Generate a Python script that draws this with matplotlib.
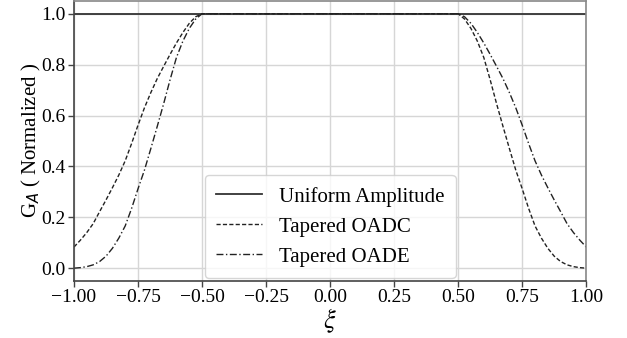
import numpy as np
import matplotlib
matplotlib.use("Agg")
import matplotlib.pyplot as plt

taper_step = [0, 1, 2, 3, 4, 5, 6, 7, 8, 9, 10,
              11, 12, 13, 14, 15, 16, 17, 18, 19, 20]

# slow taper, starts on a pedestal of ~0.08
slow_taper = [0.083, 0.110, 0.140, 0.175, 0.222, 0.268, 0.316, 0.366, 0.422, 0.490, 0.562,
              0.630, 0.690, 0.745, 0.793, 0.840, 0.885, 0.926, 0.962, 0.988, 1.000]
# fast taper, starts at zero
fast_taper = [0.000, 0.002, 0.006, 0.013, 0.026, 0.047, 0.078, 0.118, 0.166, 0.235, 0.312,
              0.385, 0.470, 0.557, 0.646, 0.740, 0.828, 0.892, 0.942, 0.979, 1.000]

xi_left = [-1.0 + 0.025 * k for k in taper_step]     # -1.0 .. -0.5
xi_right = [0.5 + 0.025 * k for k in taper_step]     # 0.5 .. 1.0

xi = xi_left + xi_right
uniform = [1.0] * len(xi)
oadc = slow_taper + fast_taper[::-1]
oade = fast_taper + slow_taper[::-1]

x_ticks = [-1.0, -0.75, -0.5, -0.25, 0.0, 0.25, 0.5, 0.75, 1.0]
x_ticklabels = ['\u22121.00', '\u22120.75', '\u22120.50', '\u22120.25',
                '0.00', '0.25', '0.50', '0.75', '1.00']
y_ticks = [0.0, 0.2, 0.4, 0.6, 0.8, 1.0]

plt.rcParams['font.family'] = ['Liberation Serif', 'DejaVu Serif']
plt.rcParams['font.size'] = 14

fig = plt.figure(figsize=(6.27, 3.38), dpi=100)
ax = fig.add_axes([0.118, 0.169, 0.817, 0.828])

ax.plot(xi, uniform, color='#333333', lw=1.3, ls='-', label='Uniform Amplitude')
ax.plot(xi, oadc, color='#222222', lw=1.0, ls=(0, (3, 1.6)), label='Tapered OADC')
ax.plot(xi, oade, color='#222222', lw=1.0, ls=(0, (5, 1.8, 1, 1.8)), label='Tapered OADE')

ax.set_xlim(-1, 1)
ax.set_ylim(-0.05, 1.05)
ax.set_xticks(x_ticks)
ax.set_xticklabels(x_ticklabels)
ax.set_yticks(y_ticks)
ax.grid(True, color='#d6d6d6', lw=1.0)
ax.set_axisbelow(True)

for side in ['left', 'bottom']:
    ax.spines[side].set_color('#444444')
    ax.spines[side].set_linewidth(1.2)
for side in ['top', 'right']:
    ax.spines[side].set_color('#888888')
    ax.spines[side].set_linewidth(1.2)
ax.tick_params(direction='out', length=4, width=1, color='#444444', pad=2)

ax.set_xlabel(r'$\xi$', math_fontfamily='stix', fontsize=19, labelpad=0)
ax.set_ylabel(r'G$_A$ ( Normalized )', math_fontfamily='dejavusans', fontsize=15, labelpad=-1)

leg = ax.legend(loc='lower center', bbox_to_anchor=(0.5, -0.02), fontsize=15,
                handlelength=2.2, handletextpad=0.8, borderpad=0.55, labelspacing=0.5,
                borderaxespad=0.4, frameon=True, fancybox=True)
leg.get_frame().set_edgecolor('#cccccc')

fig.savefig('out.png', dpi=100)
